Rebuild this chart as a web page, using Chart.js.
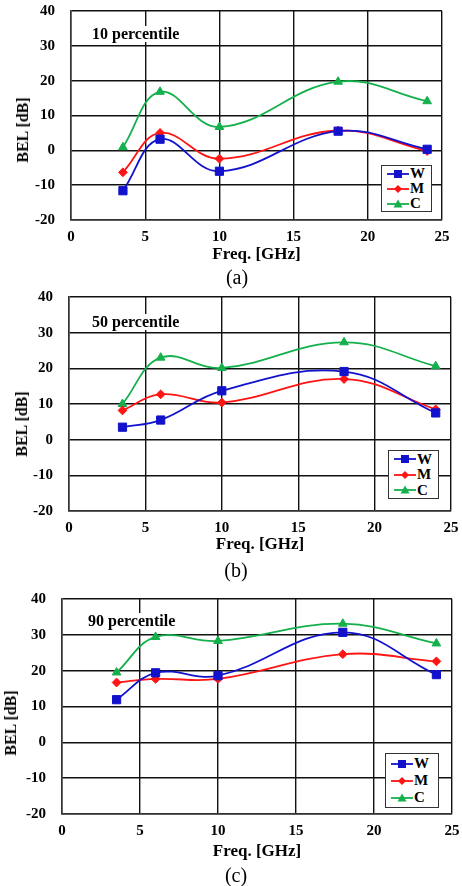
<!DOCTYPE html>
<html>
<head>
<meta charset="utf-8">
<script src="https://cdn.jsdelivr.net/npm/chart.js@4.4.1/dist/chart.umd.min.js"></script>
<style>
    html, body { margin: 0; padding: 0; background: #fff; }
    #page { position: relative; width: 462px; height: 886px; overflow: hidden; font-family: "Liberation Serif", "Times New Roman", serif; }
    canvas { position: absolute; left: 0; }
    .ytitle { position: absolute; font-weight: bold; font-size: 16px; white-space: nowrap; transform: translate(-50%, -50%) rotate(-90deg); }
    .note { position: absolute; font-weight: bold; font-size: 16px; line-height: 16px; background: #fff; padding: 0 3px; white-space: nowrap; transform: translateY(-50%); }
    .caption { position: absolute; font-size: 20px; transform: translate(-50%, -50%); }
    .legend { position: absolute; background: #fff; border: 1.5px solid #333; box-sizing: border-box; display: flex; flex-direction: column; justify-content: space-evenly; }
    .legend .row { display: flex; align-items: center; font-weight: bold; font-size: 15px; line-height: 1; }
    .legend svg { margin: 0 1px 0 5px; }
</style>
</head>
<body>
<div id="page"></div>
<script>
// frequencies (GHz)
const freqs = [3.5, 6, 10, 18, 24];
const seriesNames = ['W', 'M', 'C'];
const seriesColors = ['#1212cc', '#ff1414', '#14b04c'];
const pointShapes = ['rect', 'rectRot', 'triangle'];
const pointSizes = [5.8, 4.4, 5];

const xTicks = [0, 5, 10, 15, 20, 25];
const yTicks = [-20, -10, 0, 10, 20, 30, 40];
const xTitle = 'Freq. [GHz]';
const yTitle = 'BEL [dB]';

// BEL [dB]
const w10 = [-11.6, 3.2, -6.0, 5.5, 0.3];
const m10 = [-6.3, 5.0, -2.4, 5.7, -0.2];
const c10 = [0.9, 16.8, 6.7, 19.7, 14.1];

const w50 = [3.5, 5.5, 13.7, 19.1, 7.5];
const m50 = [8.2, 12.7, 10.4, 17.0, 8.5];
const c50 = [10.0, 23.0, 20.1, 27.3, 20.6];

const w90 = [11.9, 19.4, 18.6, 30.7, 18.9];
const m90 = [16.7, 17.7, 17.7, 24.6, 22.6];
const c90 = [19.5, 29.4, 28.3, 33.1, 27.6];

const panelNotes = ['10 percentile', '50 percentile', '90 percentile'];
const captions = ['(a)', '(b)', '(c)'];
const panelSeries = [[w10, m10, c10], [w50, m50, c50], [w90, m90, c90]];

const serif = '"Liberation Serif", "Times New Roman", serif';

// page layout of each panel (pixels)
const panels = [
    { top: 0,   h: 290, left: 71, right: 442, pTop: 11, pBottom: 220, gap: 35, yt: [23, 130], note: [89, 34],  cap: [237, 277], leg: [381, 165, 51, 47] },
    { top: 290, h: 290, left: 69, right: 451, pTop: 7,  pBottom: 221, gap: 34, yt: [22, 134], note: [89, 32],  cap: [236, 280], leg: [388, 160, 51, 49] },
    { top: 580, h: 306, left: 62, right: 452, pTop: 19, pBottom: 234, gap: 38, yt: [11, 143], note: [85, 41],  cap: [236, 295], leg: [385, 173, 54, 55] }
];

const page = document.getElementById('page');

function markerSvg(i) {
    const c = seriesColors[i];
    let shape = '';
    if (pointShapes[i] === 'rect') shape = `<rect x="7" y="2" width="8" height="8" fill="${c}"/>`;
    else if (pointShapes[i] === 'rectRot') shape = `<polygon points="11,2 15,6 11,10 7,6" fill="${c}"/>`;
    else shape = `<polygon points="11,1.5 15.5,9.5 6.5,9.5" fill="${c}"/>`;
    return `<svg width="22" height="12" viewBox="0 0 22 12"><line x1="0" y1="6" x2="22" y2="6" stroke="${c}" stroke-width="1.8"/>${shape}</svg>`;
}

panels.forEach((p, k) => {
    const canvas = document.createElement('canvas');
    canvas.width = 462;
    canvas.height = p.h;
    canvas.style.top = p.top + 'px';
    page.appendChild(canvas);

    const xh = p.gap + 10.2;
    const datasets = panelSeries[k].map((vals, i) => ({
        label: seriesNames[i],
        data: freqs.map((f, j) => ({ x: f, y: vals[j] })),
        borderColor: seriesColors[i],
        backgroundColor: seriesColors[i],
        borderWidth: 1.8,
        pointStyle: pointShapes[i],
        pointRadius: pointSizes[i],
        pointBorderWidth: 1,
        showLine: true,
        tension: 0.4
    }));

    new Chart(canvas.getContext('2d'), {
        type: 'scatter',
        data: { datasets },
        options: {
            responsive: false,
            animation: false,
            layout: { padding: { left: 0, top: p.pTop, right: 462 - p.right, bottom: p.h - p.pBottom - xh } },
            plugins: { legend: { display: false }, tooltip: { enabled: false } },
            scales: {
                x: {
                    type: 'linear',
                    min: 0, max: 25,
                    afterBuildTicks: s => { s.ticks = xTicks.map(v => ({ value: v })); },
                    afterFit: s => { s.height = xh; s.paddingLeft = 0; s.paddingRight = 0; },
                    grid: { color: '#111', lineWidth: 1.4, drawTicks: false },
                    border: { color: '#333', width: 1.5 },
                    ticks: { color: '#000', padding: 8, maxRotation: 0, font: { family: serif, size: 15, weight: 'bold' } },
                    title: { display: true, text: xTitle, color: '#000', padding: 0, font: { family: serif, size: 17, weight: 'bold' } }
                },
                y: {
                    min: -20, max: 40,
                    afterBuildTicks: s => { s.ticks = yTicks.map(v => ({ value: v })); },
                    afterFit: s => { s.width = p.left; s.paddingTop = 0; s.paddingBottom = 0; },
                    grid: { color: '#111', lineWidth: 1.4, drawTicks: false },
                    border: { color: '#333', width: 1.5 },
                    ticks: { color: '#000', padding: 16, font: { family: serif, size: 15, weight: 'bold' } }
                }
            }
        }
    });

    const yt = document.createElement('div');
    yt.className = 'ytitle';
    yt.textContent = yTitle;
    yt.style.left = p.yt[0] + 'px';
    yt.style.top = (p.top + p.yt[1]) + 'px';
    page.appendChild(yt);

    const note = document.createElement('div');
    note.className = 'note';
    note.textContent = panelNotes[k];
    note.style.left = p.note[0] + 'px';
    note.style.top = (p.top + p.note[1]) + 'px';
    page.appendChild(note);

    const cap = document.createElement('div');
    cap.className = 'caption';
    cap.textContent = captions[k];
    cap.style.left = p.cap[0] + 'px';
    cap.style.top = (p.top + p.cap[1]) + 'px';
    page.appendChild(cap);

    const leg = document.createElement('div');
    leg.className = 'legend';
    leg.style.left = p.leg[0] + 'px';
    leg.style.top = (p.top + p.leg[1]) + 'px';
    leg.style.width = p.leg[2] + 'px';
    leg.style.height = p.leg[3] + 'px';
    leg.innerHTML = seriesNames.map((n, i) => `<div class="row">${markerSvg(i)}<span>${n}</span></div>`).join('');
    page.appendChild(leg);
});
</script>
</body>
</html>
